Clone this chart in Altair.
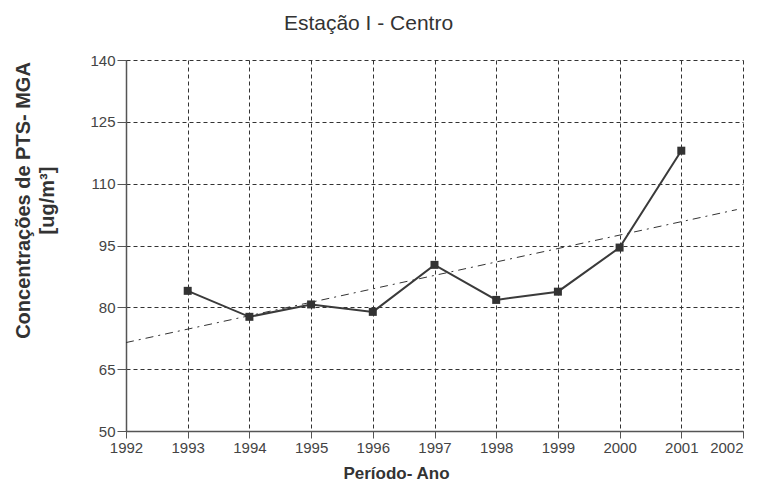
import altair as alt
import pandas as pd

years = [1993, 1994, 1995, 1996, 1997, 1998, 1999, 2000, 2001]
concentrations = [84.0, 77.7, 80.7, 78.9, 90.3, 81.8, 83.8, 94.5, 118.0]
x_ticks = list(range(1992, 2003))
y_ticks = [50, 65, 80, 95, 110, 125, 140]

df = pd.DataFrame({"ano": years, "conc": concentrations})

FONT = "Liberation Sans"
TXT = "#333333"

x_enc = alt.X(
    "ano:Q",
    scale=alt.Scale(domain=[1992, 2002], nice=False, zero=False),
    axis=alt.Axis(
        values=x_ticks, format="d", title="Período- Ano",
        tickSize=7, labelPadding=2,
        labelAlign=alt.expr("datum.value >= 2002 ? 'right' : 'center'"),
        titleX=270, titleY=47, titleBaseline="alphabetic", titleAlign="center",
        titleFontSize=17,
    ),
)
y_enc = alt.Y(
    "conc:Q",
    scale=alt.Scale(domain=[50, 140], nice=False, zero=False),
    axis=alt.Axis(
        values=y_ticks, title=["Concentrações de PTS- MGA", "[ug/m³]"],
        tickSize=9, labelPadding=2,
        titleX=-97, titleY=140, titleBaseline="alphabetic", titleAlign="center",
        titleAngle=-90, titleLineHeight=24, titleFontSize=20,
    ),
)

base = alt.Chart(df).encode(x=x_enc, y=y_enc)

trend = base.transform_regression("ano", "conc", extent=[1992, 2001.9]).mark_line(
    color="#333333", strokeWidth=1, strokeDash=[8, 5, 2, 5]
)
line = base.mark_line(color="#3a3a3a", strokeWidth=2)
pts = base.mark_square(color="#333333", size=64, opacity=1)

chart = (
    alt.layer(trend, line, pts)
    .properties(
        width=617,
        height=371,
        autosize=alt.AutoSizeParams(type="none"),
        padding={"left": 118, "top": 52, "right": 7, "bottom": 52},
        title=alt.TitleParams(
            "Estação I - Centro", font=FONT, fontSize=21, fontWeight="normal",
            color=TXT, anchor="middle", dx=-66, dy=27, offset=29, baseline="alphabetic",
        ),
        background="white",
    )
    .configure_view(stroke=None)
    .configure_axis(
        labelFont=FONT, labelFontSize=15, labelColor="#444444",
        titleFont=FONT, titleFontWeight="bold", titleColor=TXT,
        domainColor="#555555", domainWidth=1.5, tickColor="#555555", tickWidth=1,
        grid=True, gridColor="#333333", gridDash=[4, 3], gridOpacity=1, gridWidth=1,
        labelFlush=False, labelOverlap=False,
    )
)

chart.save("out.html", embed_options={"renderer": "svg", "actions": False})
